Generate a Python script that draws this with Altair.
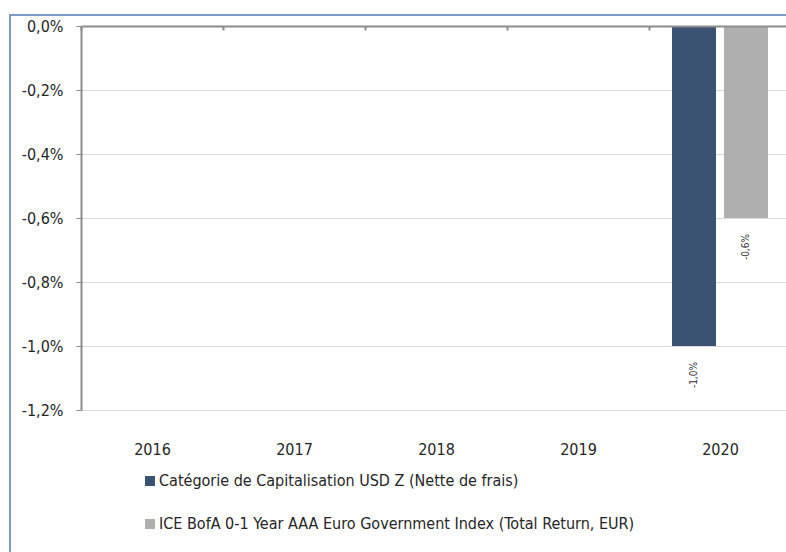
import altair as alt
import pandas as pd

years = ["2016", "2017", "2018", "2019", "2020"]
series_names = [
    "Catégorie de Capitalisation USD Z (Nette de frais)",
    "ICE BofA 0-1 Year AAA Euro Government Index (Total Return, EUR)",
]
fund_values = [None, None, None, None, -1.0]
index_values = [None, None, None, None, -0.6]
y_ticks = [0.0, -0.2, -0.4, -0.6, -0.8, -1.0, -1.2]
colors = ["#3b5373", "#afafaf"]

rows = []
for yr, f, i in zip(years, fund_values, index_values):
    if f is not None:
        rows.append({"year": yr, "series": series_names[0], "value": f})
    if i is not None:
        rows.append({"year": yr, "series": series_names[1], "value": i})
df = pd.DataFrame(rows)

FONT = "DejaVu Sans Condensed, sans-serif"
fmt = "(datum.value < 0 ? '-' : '') + replace(format(abs(datum.value), '.1f'), '.', ',') + '%'"

x_enc = alt.X(
    "year:N",
    scale=alt.Scale(domain=years, range=[0, 710], paddingInner=0, paddingOuter=0),
    axis=alt.Axis(
        title=None, orient="bottom", offset=-384, domain=True, domainColor="#8c8c8c",
        domainWidth=2, ticks=True, tickBand="extent", tickSize=4,
        tickColor="#8c8c8c", tickWidth=2, labelAngle=0, labelPadding=411,
        labelFontSize=16, labelColor="#262626", labelFont=FONT, zindex=1,
    ),
)
xoff_enc = alt.XOffset(
    "series:N",
    scale=alt.Scale(domain=series_names, paddingInner=0.1538, paddingOuter=0.4423),
)
y_enc = alt.Y(
    "value:Q",
    scale=alt.Scale(domain=[-1.2, 0], nice=False, zero=False),
    axis=alt.Axis(
        title=None, values=y_ticks, labelExpr=fmt, grid=True, gridColor="#d9d9d9",
        gridWidth=1, domain=True, domainColor="#8c8c8c", domainWidth=2, ticks=True,
        tickSize=5, tickColor="#8c8c8c", labelPadding=13, labelFontSize=16,
        labelColor="#262626", labelFont=FONT,
    ),
)

base = alt.Chart(df)

bars = base.mark_bar().encode(
    x=x_enc,
    xOffset=xoff_enc,
    y=y_enc,
    color=alt.Color(
        "series:N",
        scale=alt.Scale(domain=series_names, range=colors),
        legend=alt.Legend(
            title=None, orient="none", legendX=61, legendY=447, direction="vertical",
            symbolType="square", symbolSize=100, symbolStrokeWidth=0, labelOffset=1,
            labelFontSize=16, labelFont=FONT, labelColor="#262626", rowPadding=27,
            labelLimit=700, padding=0,
        ),
    ),
)

labels = base.mark_text(
    angle=270, align="right", baseline="middle", dx=-16, fontSize=10, font=FONT,
    color="#333333",
).encode(
    x=x_enc,
    xOffset=xoff_enc,
    y=y_enc,
    text=alt.Text("label:N"),
).transform_calculate(label=fmt)

border = alt.Chart(alt.Data(values=[{"a": 1}])).mark_rect(
    fillOpacity=0, stroke="#7f9cc3", strokeWidth=2
).encode(
    x=alt.value(-71), x2=alt.value(900), y=alt.value(-11), y2=alt.value(700)
)

chart = alt.layer(border, bars, labels).properties(
    width=705,
    height=384,
    autosize=alt.AutoSizeParams(type="none"),
    padding={"left": 81, "top": 26, "right": 0, "bottom": 142},
).configure_view(stroke=None).configure(background="white")

chart.save("out.html", embed_options={"renderer": "svg", "actions": False})
